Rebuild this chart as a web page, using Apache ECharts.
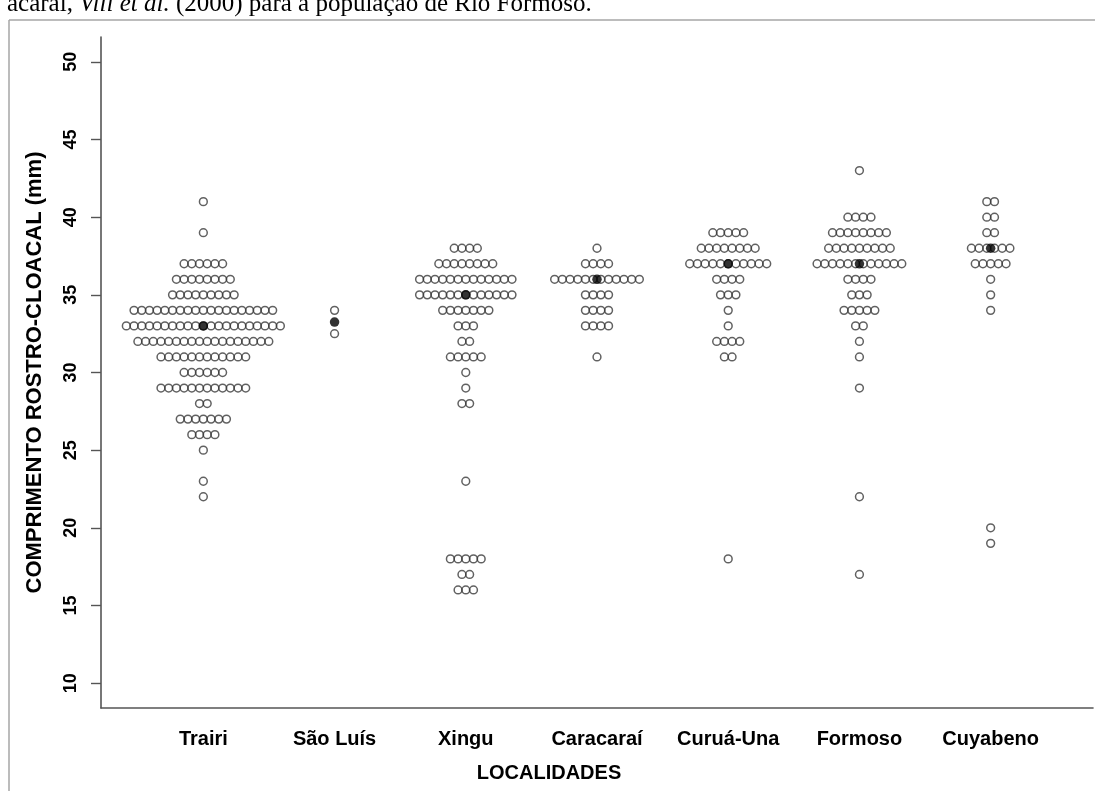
<!DOCTYPE html>
<html>
<head>
<meta charset="utf-8">
<script src="https://cdn.jsdelivr.net/npm/echarts@6/dist/echarts.min.js"></script>
<style>
  html, body { margin: 0; padding: 0; background: #fff; }
  #chart { width: 1095px; height: 791px; }
</style>
</head>
<body>
<div id="chart"></div>
<script>
// Localities along the x axis
const localidades = ['Trairi', 'São Luís', 'Xingu', 'Caracaraí', 'Curuá-Una', 'Formoso', 'Cuyabeno'];

// Snout-vent length (mm): distinct values and number of specimens at each value
const trairiCRC   = [41, 39, 37, 36, 35, 34, 33, 32, 31, 30, 29, 28, 27, 26, 25, 23, 22];
const trairiN     = [1, 1, 6, 8, 9, 19, 21, 18, 12, 6, 12, 2, 7, 4, 1, 1, 1];
const saoLuisCRC  = [34, 32.5];
const saoLuisN    = [1, 1];
const xinguCRC    = [38, 37, 36, 35, 34, 33, 32, 31, 30, 29, 28, 23, 18, 17, 16];
const xinguN      = [4, 8, 13, 13, 7, 3, 2, 5, 1, 1, 2, 1, 5, 2, 3];
const caracaraiCRC = [38, 37, 36, 35, 34, 33, 31];
const caracaraiN   = [1, 4, 12, 4, 4, 4, 1];
const curuaUnaCRC = [39, 38, 37, 36, 35, 34, 33, 32, 31, 18];
const curuaUnaN   = [5, 8, 11, 4, 3, 1, 1, 4, 2, 1];
const formosoCRC  = [43, 40, 39, 38, 37, 36, 35, 34, 33, 32, 31, 29, 22, 17];
const formosoN    = [1, 4, 8, 9, 12, 4, 3, 5, 2, 1, 1, 1, 1, 1];
const cuyabenoCRC = [41, 40, 39, 38, 37, 36, 35, 34, 20, 19];
const cuyabenoN   = [2, 2, 2, 6, 5, 1, 1, 1, 1, 1];

// Median of each locality (filled marker)
const medianas = [33, 33.25, 35, 36, 37, 37, 38];

// Tick values of the y axis
const yTicks = [10, 15, 20, 25, 30, 35, 40, 45, 50];

const grupos = [
  [trairiCRC, trairiN],
  [saoLuisCRC, saoLuisN],
  [xinguCRC, xinguN],
  [caracaraiCRC, caracaraiN],
  [curuaUnaCRC, curuaUnaN],
  [formosoCRC, formosoN],
  [cuyabenoCRC, cuyabenoN]
];

// Horizontal step between stacked markers, in x-axis units
const passo = 0.0587;

// Stack equal values side by side, centred on the locality position
const pontos = [];
grupos.forEach(([valores, contagens], g) => {
  valores.forEach((v, i) => {
    const n = contagens[i];
    for (let j = 0; j < n; j++) {
      pontos.push([g + 1 + (j - (n - 1) / 2) * passo, v]);
    }
  });
});
const pontosMediana = medianas.map((m, g) => [g + 1, m]);

const chart = echarts.init(document.getElementById('chart'), null, { renderer: 'canvas' });
const fonte = 'Arial, "Liberation Sans", Helvetica, sans-serif';
const serifa = '"Liberation Serif", "Times New Roman", serif';

chart.setOption({
  backgroundColor: '#fff',
  animation: false,
  grid: { left: 101, right: 2, top: 37, bottom: 83, containLabel: false },
  xAxis: {
    type: 'value',
    min: 0.22,
    max: 7.78,
    axisLine: { show: true, lineStyle: { color: '#555', width: 1.6 } },
    axisTick: { show: false },
    splitLine: { show: false },
    axisLabel: {
      customValues: [1, 2, 3, 4, 5, 6, 7],
      formatter: v => localidades[Math.round(v) - 1],
      fontFamily: fonte,
      fontWeight: 'bold',
      fontSize: 20,
      color: '#000',
      margin: 21
    }
  },
  yAxis: {
    type: 'value',
    min: 8.4,
    max: 51.6,
    axisLine: { show: true, lineStyle: { color: '#555', width: 1.6 } },
    axisTick: { show: true, customValues: yTicks, length: 10, lineStyle: { color: '#555', width: 1.4 } },
    splitLine: { show: false },
    axisLabel: {
      customValues: yTicks,
      rotate: 90,
      fontFamily: fonte,
      fontWeight: 'bold',
      fontSize: 18,
      color: '#000',
      margin: 21
    },
    name: 'COMPRIMENTO ROSTRO-CLOACAL (mm)',
    nameLocation: 'middle',
    nameRotate: 90,
    nameGap: 55,
    nameTextStyle: { fontFamily: fonte, fontWeight: 'bold', fontSize: 22, color: '#000' }
  },
  series: [
    {
      type: 'scatter',
      data: pontos,
      symbol: 'circle',
      symbolSize: 7.8,
      itemStyle: { color: 'rgba(255,255,255,0)', borderColor: '#3a3a3a', borderWidth: 1.5 },
      z: 2
    },
    {
      type: 'scatter',
      data: pontosMediana,
      symbol: 'circle',
      symbolSize: 9.5,
      itemStyle: { color: '#000', borderColor: '#000', borderWidth: 0 },
      z: 3
    }
  ],
  graphic: [
    {
      type: 'text',
      left: 7,
      top: -8,
      style: {
        text: '{n|acaraí, }{i|Vili et al.}{n| (2000) para a população de Rio Formoso.}',
        rich: {
          n: { fontFamily: serifa, fontSize: 25, fill: '#000' },
          i: { fontFamily: serifa, fontSize: 25, fontStyle: 'italic', fill: '#000' }
        }
      }
    },
    {
      type: 'line',
      shape: { x1: 9, y1: 20, x2: 1095, y2: 20 },
      style: { stroke: '#a6a6a6', lineWidth: 1.5 }
    },
    {
      type: 'line',
      shape: { x1: 9, y1: 20, x2: 9, y2: 791 },
      style: { stroke: '#a6a6a6', lineWidth: 1.5 }
    },
    {
      type: 'text',
      x: 549,
      y: 773,
      style: {
        text: 'LOCALIDADES',
        fontFamily: fonte,
        fontWeight: 'bold',
        fontSize: 20,
        fill: '#000',
        align: 'center',
        verticalAlign: 'middle'
      }
    }
  ]
});
</script>
</body>
</html>
